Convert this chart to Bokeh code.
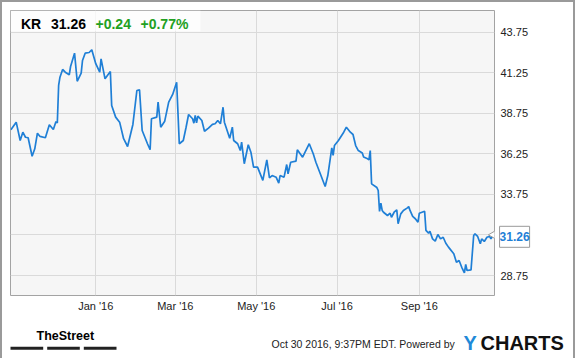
import math
import pandas as pd
from bokeh.plotting import figure
from bokeh.layouts import column
from bokeh.models import (Range1d, FixedTicker, DatetimeTickFormatter, Label,
                          BoxAnnotation, ColumnDataSource)
from bokeh.embed import file_html
from bokeh.resources import INLINE

# ---------------- data ----------------
dates = [
    "2015-10-29", "2015-11-02", "2015-11-05", "2015-11-07", "2015-11-09", "2015-11-11",
    "2015-11-14", "2015-11-16", "2015-11-18", "2015-11-20", "2015-11-24", "2015-11-27",
    "2015-11-30", "2015-12-02", "2015-12-03", "2015-12-04", "2015-12-05", "2015-12-07",
    "2015-12-09", "2015-12-12", "2015-12-13", "2015-12-16", "2015-12-18", "2015-12-21",
    "2015-12-22", "2015-12-24", "2015-12-27", "2015-12-29", "2016-01-01", "2016-01-04",
    "2016-01-05", "2016-01-08", "2016-01-12", "2016-01-13", "2016-01-16", "2016-01-19",
    "2016-01-22", "2016-01-25", "2016-01-29", "2016-02-01", "2016-02-03", "2016-02-05",
    "2016-02-09", "2016-02-11", "2016-02-12", "2016-02-16", "2016-02-17", "2016-02-19",
    "2016-02-22", "2016-02-25", "2016-02-28", "2016-03-02", "2016-03-04", "2016-03-07",
    "2016-03-09", "2016-03-11", "2016-03-14", "2016-03-15", "2016-03-16", "2016-03-17",
    "2016-03-18", "2016-03-21", "2016-03-23", "2016-03-26", "2016-03-29", "2016-03-31",
    "2016-04-02", "2016-04-04", "2016-04-06", "2016-04-07", "2016-04-11", "2016-04-13",
    "2016-04-14", "2016-04-17", "2016-04-19", "2016-04-20", "2016-04-22", "2016-04-25",
    "2016-04-27", "2016-04-29", "2016-05-02", "2016-05-06", "2016-05-09", "2016-05-11",
    "2016-05-13", "2016-05-16", "2016-05-18", "2016-05-19", "2016-05-22", "2016-05-24",
    "2016-05-25", "2016-05-27", "2016-05-31", "2016-06-01", "2016-06-05", "2016-06-10",
    "2016-06-13", "2016-06-15", "2016-06-22", "2016-06-24", "2016-06-27", "2016-06-28",
    "2016-06-29", "2016-07-02", "2016-07-06", "2016-07-08", "2016-07-11", "2016-07-13",
    "2016-07-15", "2016-07-17", "2016-07-20", "2016-07-21", "2016-07-24", "2016-07-25",
    "2016-07-26", "2016-07-27", "2016-07-31", "2016-08-01", "2016-08-02", "2016-08-03",
    "2016-08-04", "2016-08-05", "2016-08-08", "2016-08-10", "2016-08-11", "2016-08-13",
    "2016-08-15", "2016-08-16", "2016-08-18", "2016-08-20", "2016-08-23", "2016-08-24",
    "2016-08-25", "2016-08-27", "2016-08-29", "2016-08-31", "2016-09-01", "2016-09-05",
    "2016-09-06", "2016-09-08", "2016-09-09", "2016-09-11", "2016-09-13", "2016-09-15",
    "2016-09-17", "2016-09-19", "2016-09-21", "2016-09-23", "2016-09-27", "2016-09-29",
    "2016-10-01", "2016-10-03", "2016-10-05", "2016-10-06", "2016-10-07", "2016-10-10",
    "2016-10-12", "2016-10-13", "2016-10-15", "2016-10-17", "2016-10-18", "2016-10-20",
    "2016-10-22", "2016-10-24", "2016-10-25", "2016-10-27",
]
closes = [
    37.73, 38.20, 37.07, 37.58, 37.27, 37.24,
    36.10, 36.56, 37.52, 37.32, 37.24, 38.04,
    37.75, 38.24, 38.15, 40.46, 40.97, 41.45,
    41.28, 41.12, 41.63, 42.45, 40.72, 41.22,
    42.00, 42.45, 42.49, 42.66, 41.80, 41.28,
    42.10, 40.87, 41.32, 39.23, 38.51, 38.20,
    37.18, 36.70, 38.06, 40.15, 40.19, 37.69,
    36.87, 36.50, 38.41, 38.51, 39.43, 37.89,
    38.26, 39.43, 39.91, 40.66, 36.87, 37.07,
    37.84, 38.67, 38.41, 38.14, 38.61, 38.16,
    38.57, 38.30, 37.64, 37.83, 38.06, 38.10,
    38.30, 38.10, 39.12, 38.20, 37.21, 37.89,
    37.07, 36.87, 36.45, 36.97, 35.64, 36.81,
    36.35, 35.43, 35.43, 34.61, 35.88, 34.77,
    34.91, 34.81, 34.44, 34.91, 34.81, 35.59,
    35.02, 35.73, 35.80, 36.50, 36.04, 36.87,
    36.25, 35.73, 34.24, 34.91, 36.62, 36.15,
    36.76, 37.07, 37.58, 37.89, 37.58, 37.44,
    36.76, 36.45, 36.30, 36.05, 35.94, 35.88,
    36.45, 34.40, 34.17, 33.99, 32.70, 33.21,
    32.76, 32.65, 32.45, 32.59, 32.34, 32.65,
    32.80, 31.94, 32.55, 32.76, 32.92, 33.00,
    32.76, 32.39, 32.25, 32.04, 32.59, 32.71,
    31.53, 31.36, 31.48, 31.01, 30.87, 31.28,
    31.01, 31.11, 30.74, 30.50, 30.09, 29.57,
    29.68, 29.26, 28.92, 29.43, 29.06, 29.10,
    31.22, 31.32, 31.16, 30.71, 31.01, 30.85,
    31.11, 31.16, 31.01, 31.26,
]
symbol = "KR"
last_price = "31.26"
change_abs = "+0.24"
change_pct = "+0.77%"
y_ticks = [28.75, 31.25, 33.75, 36.25, 38.75, 41.25, 43.75]
x_tick_dates = ["2016-01-01", "2016-03-01", "2016-05-01", "2016-07-01", "2016-09-01"]
stamp_text = "Oct 30 2016, 9:37PM EDT.  Powered by"
brand_left = "TheStreet"
brand_right = ["Y", "CHARTS"]

# ---------------- styles ----------------
BLUE = "#1f7fd6"
GREEN = "#22a022"
FONT = "Liberation Sans"
BORDER = 2
W = 575 - 2 * BORDER
H_MAIN, H_FOOT = 316, 40
DY = -6  # vertical correction for canvas-anchored labels

x = pd.to_datetime(dates)
src = ColumnDataSource(dict(x=x, y=closes))

p = figure(width=W, height=H_MAIN, x_axis_type="datetime", y_axis_location="right",
           output_backend="svg", toolbar_location=None, title=None,
           x_range=Range1d(pd.Timestamp("2015-10-28 16:48"), pd.Timestamp("2016-10-27 16:48")),
           y_range=Range1d(27.52, 45.08),
           min_border_left=8, min_border_right=79, min_border_top=8,
           min_border_bottom=23)

p.background_fill_color = "#f6f6f6"
p.border_fill_color = "white"
p.outline_line_color = "#a3a3a3"
p.outline_line_width = 1

p.xaxis.ticker = FixedTicker(ticks=[t.value / 1e6 for t in pd.to_datetime(x_tick_dates)])
fmt = "%b '%y"
p.xaxis.formatter = DatetimeTickFormatter(
    microseconds=fmt, milliseconds=fmt, seconds=fmt, minsec=fmt, minutes=fmt,
    hourmin=fmt, hours=fmt, days=fmt, months=fmt, years=fmt)
p.yaxis.ticker = FixedTicker(ticks=y_ticks)

for ax in (p.xaxis[0], p.yaxis[0]):
    ax.axis_line_color = None
    ax.major_tick_line_color = None
    ax.minor_tick_line_color = None
    ax.major_tick_out = 0
    ax.major_tick_in = 0
    ax.minor_tick_out = 0
    ax.major_label_text_font = FONT
    ax.major_label_text_font_size = "11px"
    ax.major_label_text_color = "#222222"
p.xaxis.major_label_standoff = 4
p.yaxis.major_label_standoff = 6

p.xgrid.grid_line_color = "#dadada"
p.ygrid.grid_line_color = "#dadada"

p.line("x", "y", source=src, line_color=BLUE, line_width=1.7)

# header box + quote text (canvas units, y measured from top of this canvas)
p.add_layout(BoxAnnotation(left=8, right=198, top=8, bottom=29,
                           left_units="canvas", right_units="canvas",
                           top_units="canvas", bottom_units="canvas",
                           fill_color="white", fill_alpha=0.75, line_color=None))

def canvas_label(fig, xp, yp, text, size, color, bold=False, font=FONT):
    fig.add_layout(Label(x=xp, y=yp + DY, x_units="canvas", y_units="canvas", text=text,
                         text_font=font, text_font_size=size, text_color=color,
                         text_font_style="bold" if bold else "normal",
                         text_align="left", text_baseline="alphabetic"))

canvas_label(p, 18.5, 27, symbol, "14px", "black", bold=True)
canvas_label(p, 48.5, 27, last_price, "14px", "black", bold=True)
canvas_label(p, 93, 27, change_abs, "14px", GREEN, bold=True)
canvas_label(p, 138, 27, change_pct, "14px", GREEN, bold=True)

# notch + last value box
p.scatter(x=[x[-1]], y=[closes[-1]], marker="triangle", angle=math.pi / 2, size=9,
          fill_color="white", line_color="#999999", line_width=1)
p.add_layout(Label(x=x[-1], y=closes[-1], text=last_price, x_offset=6, y_offset=-2,
                   text_font=FONT, text_font_size="12px", text_font_style="bold",
                   text_color=BLUE, text_baseline="middle", text_align="left",
                   background_fill_color="white", border_line_color="#999999",
                   padding=(0, 6)), "right")

# ---------------- footer ----------------
f = figure(width=W, height=H_FOOT, x_axis_type=None, y_axis_type=None,
           output_backend="svg", toolbar_location=None, title=None,
           x_range=Range1d(0, W), y_range=Range1d(H_FOOT, 0),
           min_border_left=0, min_border_right=0, min_border_top=0, min_border_bottom=0)
for fig in (p, f):
    try:
        fig.frame_align = False
    except Exception:
        pass
f.outline_line_color = None
f.background_fill_color = "white"
f.border_fill_color = "white"

canvas_label(f, 34, 23.3, brand_left, "12.5px", "black", bold=True)
f.quad(left=[8, 44.7, 81.3], right=[40.7, 77.3, 114], top=[28.3] * 3, bottom=[31.3] * 3,
       fill_color="#222222", line_color=None)
canvas_label(f, 269, 31.3, stamp_text, "10.5px", "#222222")
canvas_label(f, 461, 30.3, brand_right[0], "20px", "#1f8ad8", bold=True)
canvas_label(f, 478, 30.3, brand_right[1], "20px", "#111111", bold=True)

edge = f"{BORDER}px solid #9a9a9a"
layout = column(p, f, spacing=0,
                styles={"border-left": edge, "border-top": edge, "border-right": edge})

open("out.html", "w").write(file_html(layout, INLINE))
